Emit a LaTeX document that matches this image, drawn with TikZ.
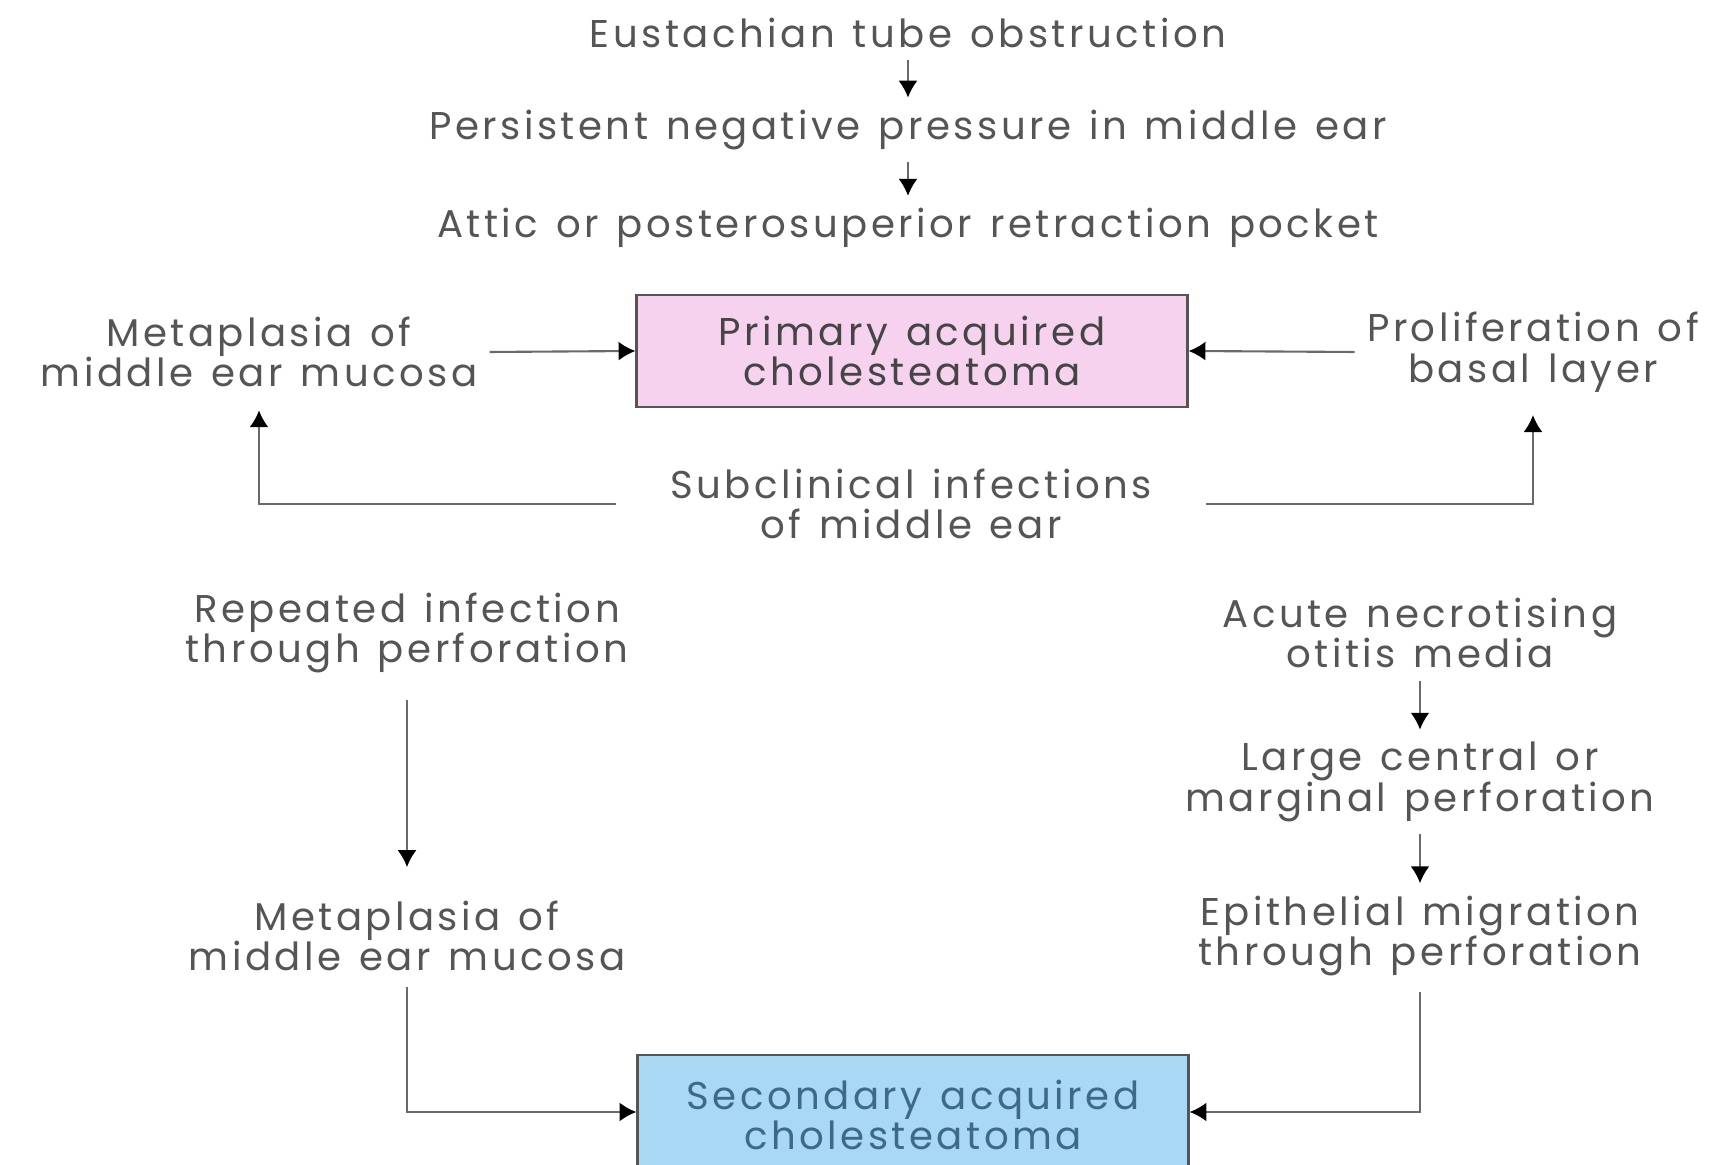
\documentclass[tikz,border=0pt]{standalone}
\usepackage{fontspec}
\setmainfont{Poppins}[LetterSpace=9, WordSpace=1.3]
\usepackage{xcolor}
\usepackage{tikz}
\usetikzlibrary{arrows.meta}
\definecolor{txtgray}{HTML}{555555}
\definecolor{boxtxt}{HTML}{454545}
\definecolor{linegray}{HTML}{6A6A6A}
\definecolor{pinkfill}{HTML}{F6D2EE}
\definecolor{bluefill}{HTML}{A8D8F4}
\definecolor{bluetxt}{HTML}{3E6988}
\tikzset{
  lbl/.style={align=center, text=txtgray, font=\fontsize{11}{11.6}\selectfont},
  cbox/.style={draw=txtgray, line width=0.8pt, minimum width=5.5cm, minimum height=1.12cm, align=center, font=\fontsize{11}{11.6}\selectfont},
  arr/.style={draw=linegray, line width=0.6pt, -{Latex[length=4.8pt, width=5.4pt, black]}},
}

\begin{document}
\begin{tikzpicture}[x=0.01cm, y=-0.01cm]
\useasboundingbox (0,0) rectangle (1726,1165);
% top chain
\node[lbl] (eto) at (908,33) {Eustachian tube obstruction};
\node[lbl] (pnp) at (908,130) {Persistent negative pressure in middle ear};
\node[lbl] (arp) at (908,228) {Attic or posterosuperior retraction pocket};
\draw[arr] (eto) -- (pnp);
\draw[arr] (pnp) -- (arp);
% primary
\node[cbox, fill=pinkfill, text=boxtxt] (pac) at (912,351) {Primary acquired\\cholesteatoma};
\node[lbl] (metaA) at (259,352) {Metaplasia of\\middle ear mucosa};
\node[lbl] (prolif) at (1533,352) {Proliferation of\\basal layer};
\node[lbl] (sub) at (911,504) {Subclinical infections\\of middle ear};
\draw[arr] (metaA.east) -- (pac.west);
\draw[arr] (prolif.west) -- (pac.east);
\draw[arr, shorten <=12pt, shorten >=3pt] (sub.west) -| (metaA.south);
\draw[arr, shorten <=12pt, shorten >=3pt] (sub.east) -| (prolif.south);
% secondary, left
\node[lbl] (rep) at (407,633) {Repeated infection\\through perforation};
\node[lbl] (metaB) at (407,936) {Metaplasia of\\middle ear mucosa};
\draw[arr, shorten <=4pt, shorten >=6pt] (rep) -- (metaB);
% secondary, right
\node[lbl] (ano) at (1420,633) {Acute necrotising\\otitis media};
\node[lbl] (lcp) at (1420,782) {Large central or\\marginal perforation};
\node[lbl] (epm) at (1420,936) {Epithelial migration\\through perforation};
\draw[arr] (ano) -- (lcp);
\draw[arr] (lcp) -- (epm);
% secondary box
\node[cbox, fill=bluefill, text=bluetxt, minimum height=1.2cm] (sac) at (913,1115) {Secondary acquired\\cholesteatoma};
\coordinate (sacl) at (sac.west |- 0,1112);
\coordinate (sacr) at (sac.east |- 0,1112);
\draw[arr, shorten <=1pt] (metaB.south) |- (sacl);
\draw[arr, shorten <=1pt] (epm.south) |- (sacr);
\end{tikzpicture}
\end{document}
